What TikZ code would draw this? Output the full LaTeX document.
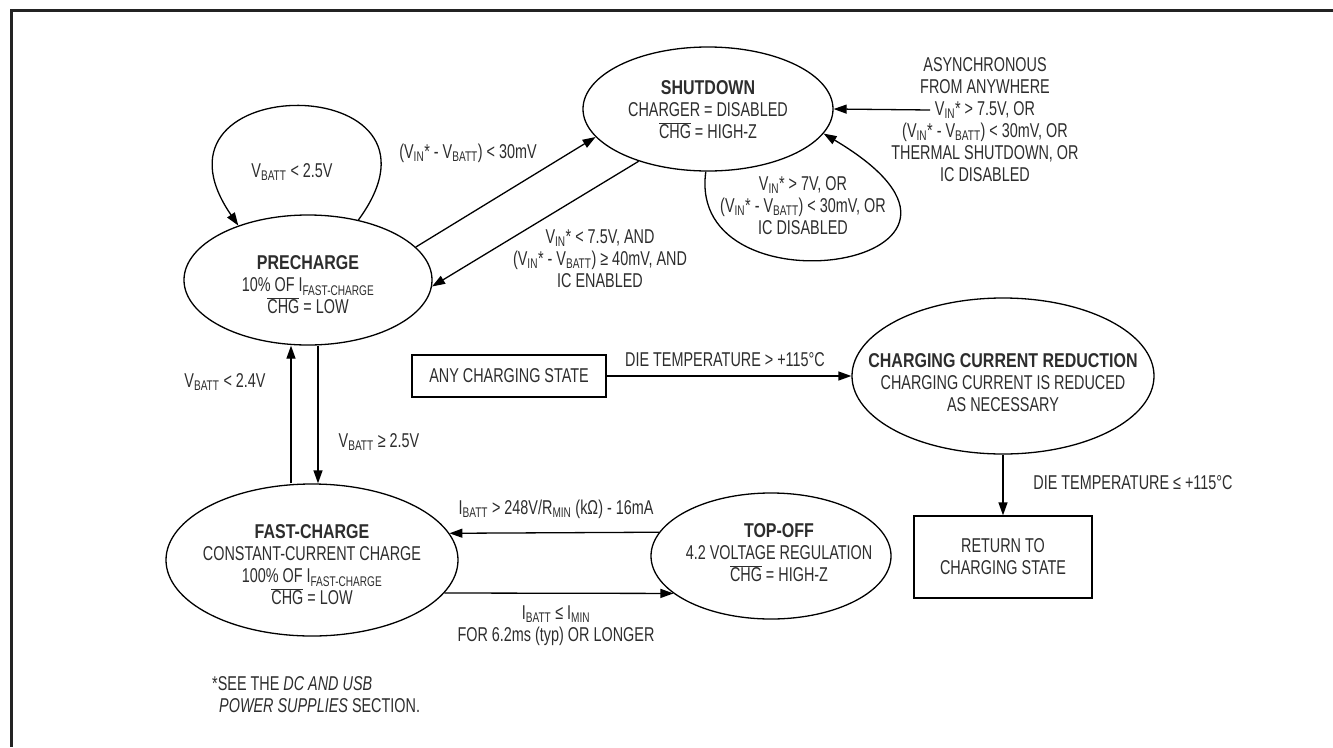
\documentclass[tikz,border=0pt]{standalone}
\usepackage{fontspec}
\setmainfont[FakeStretch=0.72]{Liberation Sans}
\newfontfamily\bnf[FakeStretch=0.8]{Liberation Sans Bold}
\usetikzlibrary{shapes.geometric,arrows.meta}
\definecolor{txt}{RGB}{45,45,45}
\definecolor{frm}{RGB}{35,35,35}
\newcommand{\sbs}[1]{\textsubscript{#1}}
\newcommand{\myVin}{V\sbs{IN}*}
\newcommand{\myVb}{V\sbs{BATT}}
\newcommand{\chgbar}{$\overline{\mbox{CHG}}$}
\newcommand{\hd}[1]{{\bnf #1}}
\begin{document}
\begin{tikzpicture}[x=1pt,y=1pt,
  every node/.style={font=\fontsize{20}{22}\selectfont, text=txt, align=center, inner sep=0pt},
  st/.style={draw=black, line width=1.3pt, ellipse},
  bx/.style={draw=black, line width=1.3pt, rectangle},
  arr/.style={draw=black, line width=1.3pt, -{Triangle[length=13pt,width=9pt]}}]
\useasboundingbox (0,0) rectangle (1333,-747);
% frame
\draw[frm, line width=3pt] (1333,-10) -- (11,-10) -- (11,-747);

% states
\node[st, minimum width=250pt, minimum height=124pt,
  label={[yshift=-1pt]center:{\hd{SHUTDOWN}\\CHARGER = DISABLED\\\chgbar{} = HIGH-Z}}]
  (shut) at (708,-109) {};
\node[st, minimum width=248pt, minimum height=130pt,
  label={[yshift=-5pt]center:{\hd{PRECHARGE}\\10\% OF I\sbs{FAST-CHARGE}\\\chgbar{} = LOW}}]
  (pre) at (308,-280) {};
\node[st, minimum width=292pt, minimum height=152pt,
  label={[yshift=-5pt]center:{\hd{FAST-CHARGE}\\CONSTANT-CURRENT CHARGE\\100\% OF I\sbs{FAST-CHARGE}\\\chgbar{} = LOW}}]
  (fast) at (312,-560) {};
\node[st, minimum width=240pt, minimum height=126pt,
  label={[xshift=8pt,yshift=3pt]center:{\hd{TOP-OFF}\\4.2 VOLTAGE REGULATION\\\chgbar{} = HIGH-Z}}]
  (top) at (771,-556) {};
\node[st, minimum width=302pt, minimum height=156pt,
  label={[yshift=-7pt]center:{\hd{CHARGING CURRENT REDUCTION}\\CHARGING CURRENT IS REDUCED\\AS NECESSARY}}]
  (ccr) at (1003,-376) {};
\node[bx, minimum width=194pt, minimum height=42pt] (any) at (509,-376)
  {ANY CHARGING STATE};
\node[bx, minimum width=178pt, minimum height=82pt] (ret) at (1003,-557)
  {RETURN TO\\CHARGING STATE};

% async text
\node (async) at (985,-120)
  {ASYNCHRONOUS\\FROM ANYWHERE\\\myVin{} > 7.5V, OR\\(\myVin{} - \myVb) < 30mV, OR\\THERMAL SHUTDOWN, OR\\IC DISABLED};
\coordinate (asyncin) at (930,-110);

% connectors
\draw[arr] (asyncin) -- (shut.east);
\draw[arr] (pre.17) -- (shut.194);
\draw[arr] (shut.217) -- (pre.-3);
\draw[arr] (pre.50) .. controls (470,-68) and (130,-68) .. (pre.142);
\draw[arr] (shut.-92) .. controls (685,-320) and (1045,-265) .. (shut.-12);
\draw[arr] ([xshift=-21pt]fast.north) -- ([xshift=-17pt]pre.south);
\draw[arr] ([xshift=10pt]pre.south) -- ([xshift=6pt]fast.north);
\draw[arr] (top.168) -- (fast.11.6);
\draw[arr] (fast.-14.5) -- (top.201.6);
\draw[arr] (any.east) -- (ccr.west);
\draw[arr] (ccr.south) -- (ret.north);

% labels
\node (l1) at (468,-153) {(\myVin{} - \myVb) < 30mV};
\node (l2) at (600,-259) {\myVin{} < 7.5V, AND\\(\myVin{} - \myVb) ≥ 40mV, AND\\IC ENABLED};
\node (l3) at (292,-172) {\myVb{} < 2.5V};
\node (l4) at (803,-206) {\myVin{} > 7V, OR\\(\myVin{} - \myVb) < 30mV, OR\\IC DISABLED};
\node (l5) at (225,-382) {\myVb{} < 2.4V};
\node (l6) at (379,-442) {\myVb{} ≥ 2.5V};
\node (l7) at (725,-360) {DIE TEMPERATURE > +115°C};
\node (l8) at (1133,-483) {DIE TEMPERATURE ≤ +115°C};
\node (l9) at (556,-509) {I\sbs{BATT} > 248V/R\sbs{MIN} (kΩ) - 16mA};
\node (l10) at (556,-626) {I\sbs{BATT} ≤ I\sbs{MIN}\\FOR 6.2ms (typ) OR LONGER};
\node[anchor=west, align=left] (fn) at (212,-695)
  {*SEE THE \textit{DC AND USB}\\\hspace*{7pt}\textit{POWER SUPPLIES} SECTION.};
\end{tikzpicture}
\end{document}
